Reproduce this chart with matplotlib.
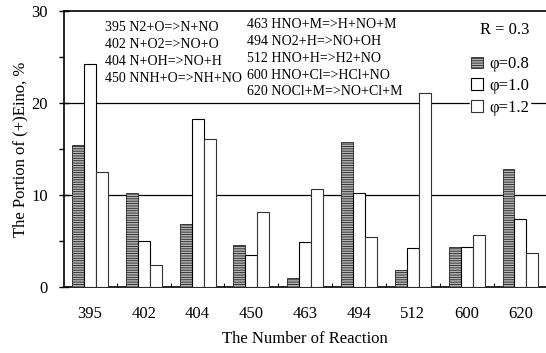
import matplotlib
matplotlib.use('Agg')
import matplotlib.pyplot as plt
import numpy as np
from matplotlib.ticker import FixedLocator, MultipleLocator

plt.rcParams['font.family'] = ['Liberation Serif', 'DejaVu Serif']
plt.rcParams['hatch.linewidth'] = 0.6

reactions = ['395', '402', '404', '450', '463', '494', '512', '600', '620']
phi_08 = [15.4, 10.2, 6.8, 4.6, 1.0, 15.8, 1.8, 4.3, 12.8]
phi_10 = [24.2, 5.0, 18.3, 3.5, 4.9, 10.2, 4.2, 4.4, 7.4]
phi_12 = [12.5, 2.4, 16.1, 8.2, 10.6, 5.4, 21.1, 5.6, 3.7]
series_labels = ['\u03c6=0.8', '\u03c6=1.0', '\u03c6=1.2']

reaction_list_1 = ['395 N2+O=>N+NO', '402 N+O2=>NO+O', '404 N+OH=>NO+H',
                   '450 NNH+O=>NH+NO']
reaction_list_2 = ['463 HNO+M=>H+NO+M', '494 NO2+H=>NO+OH', '512 HNO+H=>H2+NO',
                   '600 HNO+Cl=>HCl+NO', '620 NOCl+M=>NO+Cl+M']

fig = plt.figure(figsize=(5.46, 3.53), dpi=100)
ax = fig.add_axes([0.117, 0.187, 0.883, 0.782])

x = np.arange(len(reactions))
w = 0.222
ax.bar(x - w, phi_08, w, facecolor='#b4b4b4', edgecolor='#222222', hatch='-------',
       linewidth=0.6, label=series_labels[0], zorder=3)
ax.bar(x, phi_10, w, facecolor='white', edgecolor='black', linewidth=0.8,
       label=series_labels[1], zorder=3)
ax.bar(x + w, phi_12, w, facecolor='white', edgecolor='#333333', linewidth=0.8,
       label=series_labels[2], zorder=3)

ax.set_xlim(-0.485, 8.475)
ax.set_ylim(0, 30)
for yv in (10, 20):
    ax.axhline(yv, color='black', linewidth=0.9, zorder=1)

ax.set_xticks(x)
ax.set_xticklabels(reactions, fontsize=12)
ax.xaxis.set_minor_locator(FixedLocator(x[:-1] + 0.5))
ax.tick_params(axis='x', which='major', length=0, pad=14)
ax.tick_params(axis='x', which='minor', direction='in', length=3, width=0.8)
ax.set_yticks([0, 10, 20, 30])
ax.yaxis.set_minor_locator(MultipleLocator(5))
ax.tick_params(axis='y', which='major', labelsize=12, direction='inout',
               length=7, width=1, pad=8)
ax.tick_params(axis='y', which='minor', length=3.5, width=1)

ax.spines['right'].set_visible(False)
for s in ('left', 'bottom', 'top'):
    ax.spines[s].set_linewidth(1.2)

ax.set_xlabel('The Number of Reaction', fontsize=12, labelpad=6)
ax.set_ylabel('The Portion of (+)Eino, %', fontsize=12, labelpad=2)

ax.text(0.085, 0.964, '\n'.join(reaction_list_1), transform=ax.transAxes,
        fontsize=10, va='top', ha='left', linespacing=1.4, zorder=4)
ax.text(0.38, 0.974, '\n'.join(reaction_list_2), transform=ax.transAxes,
        fontsize=10, va='top', ha='left', linespacing=1.38, zorder=4)
ax.text(0.915, 0.93, 'R = 0.3', transform=ax.transAxes, fontsize=12,
        ha='center', va='center', zorder=4)

leg = ax.legend(loc='upper right', bbox_to_anchor=(0.985, 0.872), fontsize=12,
                frameon=True, framealpha=1, edgecolor='white', fancybox=False,
                handlelength=0.7, handleheight=0.7, handletextpad=0.35,
                labelspacing=0.35, borderpad=0.1)
leg.set_zorder(5)

fig.savefig('out.png', dpi=100)
